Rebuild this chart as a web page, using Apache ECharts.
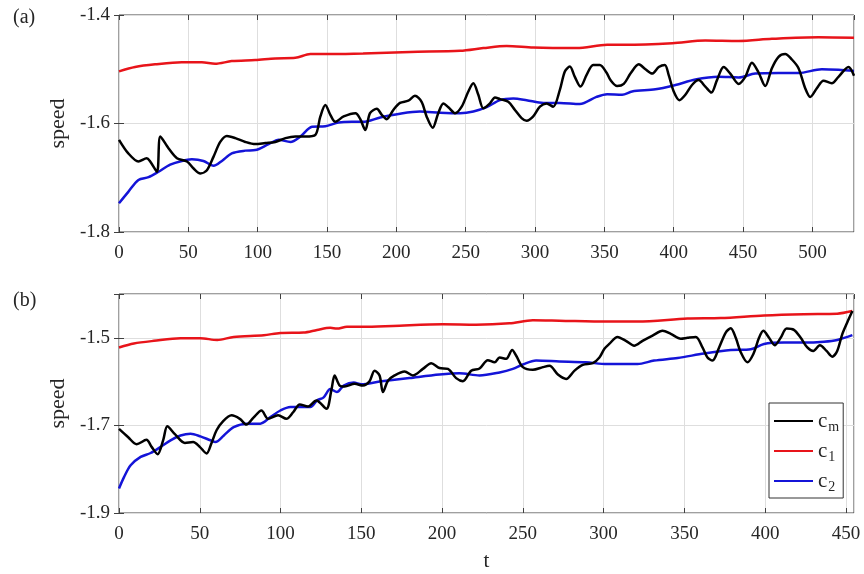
<!DOCTYPE html>
<html>
<head>
<meta charset="utf-8">
<script src="https://cdn.jsdelivr.net/npm/echarts@6/dist/echarts.min.js"></script>
<style>
  html, body { margin: 0; padding: 0; background: #fff; }
  #chart { width: 864px; height: 574px; }
</style>
</head>
<body>
<div id="chart"></div>
<script>
// Panel (a): time / speed pairs
const cmA = [[0,-1.630],[6.7,-1.655],[14,-1.670],[20,-1.664],[22.5,-1.670],[27.4,-1.689],[29.8,-1.624],[35.8,-1.646],[41.8,-1.664],[49,-1.670],[53.8,-1.683],[58.6,-1.692],[63.4,-1.686],[68.2,-1.661],[73,-1.634],[77.8,-1.623],[83.9,-1.627],[91.1,-1.634],[98.3,-1.638],[105.5,-1.636],[112.7,-1.634],[120,-1.627],[127.2,-1.624],[134.4,-1.624],[141.6,-1.621],[145.2,-1.587],[148.8,-1.566],[152.4,-1.584],[156,-1.597],[162,-1.587],[170.5,-1.581],[174,-1.592],[177.6,-1.612],[181,-1.581],[185.9,-1.573],[189.5,-1.584],[193,-1.592],[197.8,-1.575],[202.6,-1.562],[208.6,-1.558],[213.4,-1.549],[218.2,-1.560],[221.8,-1.587],[226.2,-1.608],[230.2,-1.581],[233.9,-1.563],[237.5,-1.570],[242.3,-1.581],[247.1,-1.569],[251.9,-1.541],[255.5,-1.526],[259.1,-1.547],[262.7,-1.572],[267.5,-1.563],[271.1,-1.552],[274.7,-1.555],[280.7,-1.560],[285.5,-1.575],[290.3,-1.590],[293.9,-1.595],[298.7,-1.587],[303.5,-1.569],[308.3,-1.563],[313.1,-1.569],[317.9,-1.538],[321.5,-1.504],[325.1,-1.495],[328.7,-1.514],[332.8,-1.532],[337.1,-1.511],[341.9,-1.492],[346.7,-1.492],[351.5,-1.506],[354.4,-1.520],[359.2,-1.531],[364,-1.527],[368.8,-1.508],[374.8,-1.491],[379.6,-1.500],[384.4,-1.508],[389.2,-1.496],[393.6,-1.492],[396.4,-1.511],[400,-1.541],[404.1,-1.557],[408.4,-1.547],[413.2,-1.529],[418,-1.520],[422.8,-1.532],[427.2,-1.543],[431.2,-1.520],[436,-1.496],[440.8,-1.508],[446.8,-1.527],[451.6,-1.514],[456.4,-1.488],[461.2,-1.506],[466,-1.531],[470.8,-1.498],[475.6,-1.477],[480.4,-1.472],[485.2,-1.482],[490,-1.498],[494.8,-1.535],[498.4,-1.551],[503.2,-1.535],[508,-1.521],[514,-1.526],[518.8,-1.514],[526,-1.496],[530,-1.512]];
const c1A = [[0,-1.504],[11.6,-1.496],[26,-1.491],[45.3,-1.487],[59.7,-1.487],[69.3,-1.490],[81.3,-1.485],[98.3,-1.483],[112.7,-1.480],[127.2,-1.479],[138,-1.472],[153.6,-1.472],[176,-1.471],[210,-1.468],[246,-1.466],[262.7,-1.461],[279.5,-1.457],[298.7,-1.460],[330,-1.461],[352,-1.455],[365,-1.455],[399,-1.452],[422.8,-1.447],[446.8,-1.448],[470.8,-1.444],[504.4,-1.441],[530,-1.442]];
const c2A = [[0,-1.747],[6.7,-1.726],[14,-1.704],[21.3,-1.699],[28.5,-1.689],[36.9,-1.676],[45.3,-1.669],[52.5,-1.666],[60.9,-1.669],[68.2,-1.678],[74.2,-1.669],[81.3,-1.655],[91.1,-1.650],[98.3,-1.649],[107.9,-1.638],[115.2,-1.630],[123.6,-1.634],[130.8,-1.624],[139.2,-1.606],[148.8,-1.605],[158.4,-1.598],[168,-1.597],[176,-1.597],[188.3,-1.589],[202.6,-1.582],[217,-1.578],[231.4,-1.580],[245.9,-1.581],[255.5,-1.578],[265.1,-1.570],[274.7,-1.557],[284.3,-1.554],[293.9,-1.557],[306,-1.562],[317.9,-1.562],[332.3,-1.564],[344.3,-1.551],[352,-1.546],[362.8,-1.547],[370,-1.541],[386.8,-1.537],[401.2,-1.529],[415.6,-1.519],[432.4,-1.514],[446.8,-1.515],[458.8,-1.508],[475.6,-1.507],[490,-1.507],[506.8,-1.500],[518.8,-1.501],[530,-1.503]];

// Panel (b): time / speed pairs
const cmB = [[0,-1.708],[5.7,-1.727],[10.9,-1.743],[17,-1.733],[20.2,-1.749],[23.9,-1.766],[27.4,-1.733],[29.9,-1.702],[34.6,-1.720],[40.8,-1.740],[45.9,-1.738],[50,-1.749],[54.2,-1.764],[57.3,-1.740],[60.4,-1.711],[64.5,-1.690],[69.7,-1.677],[74.8,-1.685],[78.9,-1.698],[83.1,-1.683],[88.2,-1.666],[92.3,-1.685],[98.5,-1.677],[103.6,-1.685],[107.8,-1.670],[111.9,-1.652],[117,-1.657],[122.2,-1.643],[128.4,-1.662],[131.5,-1.619],[133.5,-1.586],[136.6,-1.609],[139.7,-1.611],[145.9,-1.605],[151,-1.609],[155,-1.600],[158.2,-1.575],[161.3,-1.586],[163.4,-1.624],[166.5,-1.598],[170.6,-1.586],[176.8,-1.577],[181.9,-1.586],[188.1,-1.571],[193.3,-1.558],[198.4,-1.569],[203.6,-1.571],[208.7,-1.592],[212.9,-1.599],[218,-1.575],[223.2,-1.570],[228.3,-1.551],[232.5,-1.556],[235.6,-1.545],[239.7,-1.548],[243.4,-1.528],[245.9,-1.541],[250,-1.567],[256.2,-1.573],[262.4,-1.567],[266.5,-1.564],[271.7,-1.584],[276.8,-1.594],[282,-1.575],[287.1,-1.562],[293.3,-1.558],[297.4,-1.545],[300.5,-1.525],[303.5,-1.514],[308.6,-1.498],[313.8,-1.507],[318.9,-1.518],[324.1,-1.507],[330.3,-1.495],[336.5,-1.484],[341.6,-1.491],[347.8,-1.502],[351.9,-1.500],[357.1,-1.498],[361.2,-1.522],[364.3,-1.545],[367.4,-1.552],[371.5,-1.522],[375.6,-1.488],[378.7,-1.478],[381.8,-1.500],[384.9,-1.533],[389,-1.556],[392.7,-1.537],[396.2,-1.500],[398.9,-1.484],[402.4,-1.500],[405.9,-1.517],[409.6,-1.500],[413.3,-1.479],[417.8,-1.482],[422,-1.500],[426.1,-1.522],[429.8,-1.530],[433.9,-1.517],[438,-1.530],[441.5,-1.543],[444.6,-1.530],[447.7,-1.492],[450.8,-1.465],[454,-1.439]];
const c1B = [[0,-1.522],[9.2,-1.513],[21.6,-1.507],[38.1,-1.501],[50.4,-1.501],[60.8,-1.505],[71,-1.498],[89.6,-1.494],[99.9,-1.489],[114.3,-1.488],[122.6,-1.482],[130.8,-1.477],[134.9,-1.479],[141.1,-1.475],[151,-1.475],[169.5,-1.473],[200.5,-1.469],[221,-1.470],[241.7,-1.467],[256.2,-1.460],[272.6,-1.461],[302,-1.463],[321,-1.463],[351.9,-1.456],[372.5,-1.455],[399.3,-1.449],[424,-1.446],[444.6,-1.445],[454,-1.439]];
const c2B = [[0,-1.844],[3.1,-1.818],[7.2,-1.791],[13.4,-1.772],[19.6,-1.763],[25.8,-1.749],[31.9,-1.734],[38.1,-1.723],[44.3,-1.719],[50.4,-1.725],[56.6,-1.734],[59.7,-1.738],[64.9,-1.723],[71,-1.704],[79.3,-1.696],[87.5,-1.696],[93.7,-1.681],[99.9,-1.666],[106.1,-1.658],[112.3,-1.658],[118.5,-1.658],[122.6,-1.643],[126.7,-1.636],[130.8,-1.617],[134.9,-1.624],[139.1,-1.609],[145.3,-1.602],[150,-1.606],[161.3,-1.600],[179.8,-1.592],[198.4,-1.584],[210.8,-1.581],[223.2,-1.586],[235.6,-1.579],[243.8,-1.571],[250,-1.561],[258.2,-1.552],[272.6,-1.554],[289.1,-1.556],[302,-1.560],[321,-1.560],[331.3,-1.552],[345.8,-1.546],[362.2,-1.536],[378.7,-1.528],[391.1,-1.526],[399.3,-1.514],[411.7,-1.511],[424,-1.511],[436.4,-1.509],[444.6,-1.505],[454,-1.494]];

// Axis ranges
const xRangeA = [0, 530];
const xRangeB = [0, 455];
const yRangeA = [-1.8, -1.4];
const yRangeB = [-1.9, -1.4];
const xStep = 50;
const yStep = 0.2;

const SERIF = "'Liberation Serif', 'Times New Roman', serif";
const INK = '#262626';
const FRAME = '#404040';
const GRIDC = '#dedede';
const COLORS = { cm: '#000000', c1: '#e8141a', c2: '#1414d8' };
const SUBS = { cm: 'm', c1: '1', c2: '2' };

function mainX(gi, range, withName) {
  return {
    type: 'value', gridIndex: gi, min: range[0], max: range[1], interval: xStep,
    axisLine: { show: false },
    axisTick: { show: true, inside: true, length: 5, lineStyle: { color: FRAME } },
    axisLabel: { show: true, showMaxLabel: false, margin: 12, color: INK, fontFamily: SERIF, fontSize: 19 },
    splitLine: { show: true, lineStyle: { color: GRIDC, width: 1 } },
    name: withName ? 't' : '', nameLocation: 'middle', nameGap: 38,
    nameTextStyle: { color: INK, fontFamily: SERIF, fontSize: 21 }
  };
}
function sideX(gi, range) {
  return {
    type: 'value', gridIndex: gi, position: 'top', min: range[0], max: range[1], interval: xStep,
    axisLine: { show: false },
    axisTick: { show: true, inside: true, length: 5, lineStyle: { color: FRAME } },
    axisLabel: { show: false }, splitLine: { show: false }
  };
}
function mainY(gi, range) {
  return {
    type: 'value', gridIndex: gi, min: range[0], max: range[1], interval: yStep,
    axisLine: { show: false },
    axisTick: { show: true, inside: true, length: 5, lineStyle: { color: FRAME } },
    axisLabel: { show: true, margin: 9, color: INK, fontFamily: SERIF, fontSize: 19,
      formatter: v => (Math.abs(Math.round((v - range[0]) / yStep) * yStep - (v - range[0])) < 1e-9) ? v.toFixed(1) : '' },
    splitLine: { show: true, lineStyle: { color: GRIDC, width: 1 } },
    name: 'speed', nameLocation: 'middle', nameGap: 46,
    nameTextStyle: { color: INK, fontFamily: SERIF, fontSize: 22 }
  };
}
function sideY(gi, range) {
  return {
    type: 'value', gridIndex: gi, position: 'right', min: range[0], max: range[1], interval: yStep,
    axisLine: { show: false },
    axisTick: { show: true, inside: true, length: 5, lineStyle: { color: FRAME } },
    axisLabel: { show: false }, splitLine: { show: false }
  };
}
function line(name, data, xi, yi, smooth) {
  return {
    type: 'line', name: name, data: data, xAxisIndex: xi, yAxisIndex: yi,
    symbol: 'none', smooth: smooth, silent: true,
    lineStyle: { color: COLORS[name], width: 2.5 },
    itemStyle: { color: COLORS[name] },
    z: name === 'cm' ? 4 : 3
  };
}

const chart = echarts.init(document.getElementById('chart'), null, { renderer: 'canvas' });
chart.setOption({
  backgroundColor: '#ffffff',
  animation: false,
  title: [
    { text: '(a)', left: 8, top: 3, textStyle: { fontFamily: SERIF, fontSize: 20, fontWeight: 'normal', color: INK } },
    { text: '(b)', left: 8, top: 286, textStyle: { fontFamily: SERIF, fontSize: 20, fontWeight: 'normal', color: INK } }
  ],
  grid: [
    { left: 119, top: 15, right: 10, height: 217, show: true, borderColor: FRAME, borderWidth: 1, backgroundColor: 'transparent' },
    { left: 119, top: 294, right: 10, height: 219, show: true, borderColor: FRAME, borderWidth: 1, backgroundColor: 'transparent' }
  ],
  xAxis: [mainX(0, xRangeA, false), mainX(1, xRangeB, true), sideX(0, xRangeA), sideX(1, xRangeB)],
  yAxis: [mainY(0, yRangeA), mainY(1, yRangeB), sideY(0, yRangeA), sideY(1, yRangeB)],
  legend: {
    data: ['cm', 'c1', 'c2'],
    orient: 'vertical',
    left: 769, top: 403,
    backgroundColor: '#ffffff',
    borderColor: '#333333', borderWidth: 1,
    padding: [5, 4, 4, 4],
    itemWidth: 39, itemHeight: 14, itemGap: 4,
    itemStyle: { opacity: 0 },
    formatter: n => '{c|c}{s|' + SUBS[n] + '}',
    textStyle: {
      color: INK, fontFamily: SERIF,
      rich: {
        c: { fontFamily: SERIF, fontSize: 21, color: INK, lineHeight: 26 },
        s: { fontFamily: SERIF, fontSize: 14, color: INK, lineHeight: 26, padding: [12, 0, 0, 1] }
      }
    },
    selectedMode: false
  },
  series: [
    line('c1', c1A, 0, 0, 0.3),
    line('c2', c2A, 0, 0, 0.3),
    line('cm', cmA, 0, 0, 0.3),
    line('c1', c1B, 1, 1, 0.3),
    line('c2', c2B, 1, 1, 0.3),
    line('cm', cmB, 1, 1, 0.3)
  ]
});
</script>
</body>
</html>
